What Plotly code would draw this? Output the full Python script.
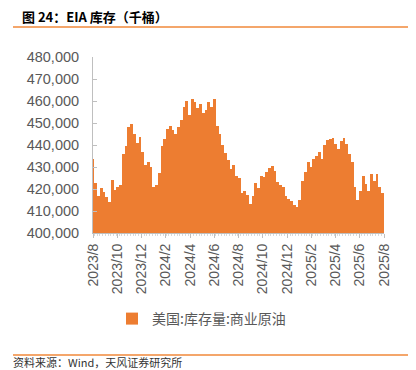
import numpy as np
import pandas as pd
import plotly.graph_objects as go

# Weekly US commercial crude inventory (thousand barrels), 2023-08-18 .. 2025-08-22
inv_2023 = [433.5, 422.9, 416.6, 420.6, 418.5, 416.3, 414.1, 424.2, 419.7, 421.1,
            421.9, 435.8, 439.4, 448.1, 449.7, 445.0, 440.8, 443.7, 436.6, 431.1]
inv_2024 = [432.4, 429.9, 420.7, 421.9, 427.4, 439.5, 442.9, 447.2, 448.5, 447.0,
            445.0, 448.2, 451.4, 457.3, 460.0, 453.6, 460.9, 459.5, 457.0, 458.8,
            454.7, 455.9, 459.7, 457.1, 460.7, 448.5, 445.1, 440.2, 436.5, 433.0,
            429.3, 430.7, 426.0, 425.2, 418.3, 419.1, 417.5, 413.0, 417.0, 422.7,
            420.6, 426.0, 425.5, 427.7, 429.7, 430.3, 428.4, 423.4, 422.0, 421.0,
            416.9, 415.6]
inv_2025 = [414.6, 412.7, 411.7, 415.1, 423.8, 427.9, 432.5, 430.2, 433.8, 435.2,
            437.0, 433.6, 439.8, 442.3, 442.9, 443.1, 440.4, 438.4, 441.8, 443.2,
            440.4, 436.1, 432.4, 420.9, 415.1, 419.0, 426.0, 422.2, 419.0, 426.7,
            423.7, 426.7, 420.7, 418.3]
start_date = "2023-08-18"
tick_labels = ["2023/8", "2023/10", "2023/12", "2024/2", "2024/4", "2024/6", "2024/8",
               "2024/10", "2024/12", "2025/2", "2025/4", "2025/6", "2025/8"]
series_name = "美国:库存量:商业原油"

values = [v * 1000 for v in inv_2023 + inv_2024 + inv_2025]
dates = pd.date_range(start_date, periods=len(values), freq="7D")
n = len(values)
idx = list(range(n))

ORANGE = "#ED7D31"
GREY = "#595959"
AXIS = "#BFBFBF"
RULE = "#F0883A"

OFF = 8                      # page body margin in the browser
W, H = 416 - OFF, 370 - OFF  # figure size
# plot area in screenshot pixels: x 93..384, y 57..233
L, R, T, B = 93 - OFF, 416 - 384, 57 - OFF, 370 - 233
PW, PH = W - L - R, H - T - B


def px_x(x):
    return (x - OFF - L) / PW


def px_y(y):
    return (H - B - (y - OFF)) / PH


fig = go.Figure()
fig.add_trace(go.Bar(
    x=idx, y=values, name=series_name,
    marker=dict(color=ORANGE, line=dict(width=0)),
    customdata=[d.strftime("%Y-%m-%d") for d in dates],
    hovertemplate="%{customdata}: %{y:,}<extra></extra>",
))

x0, x1 = 0.0, n - 0.5
tickvals = list(np.linspace(x0, x1, len(tick_labels)))

fig.update_layout(
    width=W, height=H,
    margin=dict(l=L, r=R, t=T, b=B, autoexpand=False),
    paper_bgcolor="white", plot_bgcolor="white",
    bargap=0,
    showlegend=True,
    font=dict(family="Liberation Sans, Arial, sans-serif", color=GREY, size=14),
    title=dict(text="<b>图 24：EIA 库存（千桶）</b>", xref="container", x=(22 - OFF) / W,
               xanchor="left", yref="container", y=1 - (17 - OFF) / H, yanchor="middle",
               pad=dict(l=0, r=0, t=0, b=0),
               font=dict(family="Noto Sans CJK SC", size=13, color="#000000")),
    legend=dict(orientation="h", x=px_x(112), xanchor="left", y=px_y(319), yanchor="middle",
                font=dict(family="Noto Sans CJK SC", size=14, color=GREY),
                itemwidth=30, bgcolor="rgba(0,0,0,0)"),
    xaxis=dict(range=[x0, x1], tickmode="array", tickvals=tickvals, ticktext=tick_labels,
               tickangle=-90, showgrid=False, zeroline=False, automargin=False,
               showline=True, linecolor=AXIS, linewidth=1,
               ticks="outside", ticklen=4, tickcolor=AXIS,
               minor=dict(tickvals=[i + 0.5 for i in range(n)], ticks="outside",
                          ticklen=2, tickcolor="#D9D9D9"),
               tickfont=dict(size=14, color=GREY)),
    yaxis=dict(range=[400000, 480000], dtick=10000, tickformat=",",
               showgrid=False, zeroline=False, automargin=False,
               showline=True, linecolor=AXIS, linewidth=1,
               ticks="inside", ticklen=4, tickcolor=AXIS,
               tickfont=dict(size=14.5, color=GREY), ticklabelstandoff=10),
    shapes=[
        dict(type="line", xref="paper", yref="paper", x0=px_x(13), x1=px_x(413),
             y0=px_y(27), y1=px_y(27), line=dict(color=RULE, width=1.5)),
        dict(type="line", xref="paper", yref="paper", x0=px_x(13), x1=px_x(413),
             y0=px_y(355), y1=px_y(355), line=dict(color=RULE, width=1.5)),
    ],
    annotations=[
        dict(text="资料来源：Wind，天风证券研究所", xref="paper", yref="paper",
             x=px_x(11), xanchor="left", y=px_y(362), yanchor="middle",
             showarrow=False, font=dict(family="Noto Sans CJK SC", size=11, color="#333333")),
    ],
)

fig.write_html("out.html")
